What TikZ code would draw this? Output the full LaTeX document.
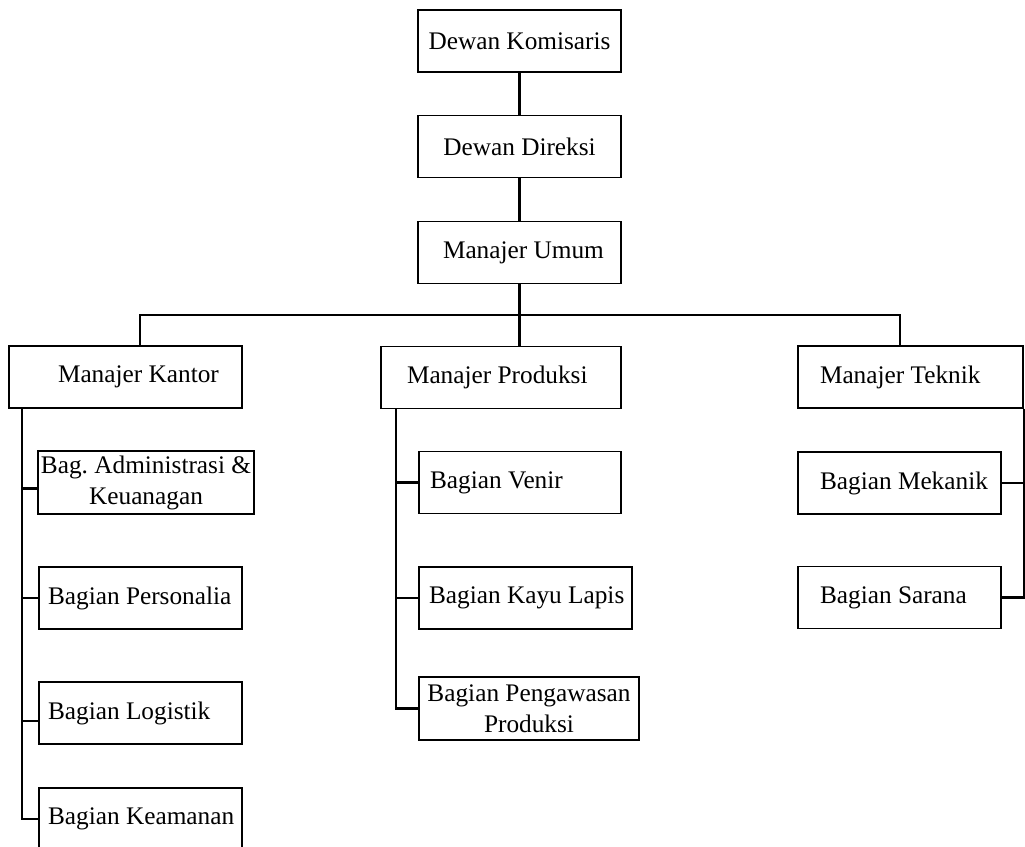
\documentclass[tikz,border=0pt]{standalone}
\usepackage{fontspec}
\setmainfont{Liberation Serif}

\begin{document}
\begin{tikzpicture}[
    x=0.02cm, y=-0.02cm,
    box/.style={draw, line width=0.75pt, inner xsep=0pt, inner ysep=0pt,
        minimum height=1.24cm, font=\fontsize{14.4}{17.6}\selectfont\frenchspacing},
    line/.style={line width=1.3pt}
]

    \useasboundingbox (0,0) rectangle (1025,846);

    % Top levels
    \node[box, minimum width=4.06cm, align=center] (kom) at (519.5,41) {Dewan Komisaris};
    \node[box, minimum width=4.06cm, align=center] (dir) at (519.5,146.5) {Dewan Direksi};
    \node[box, text width=4.06cm, align=flush left] (umum) at (519.5,252.5) {\hspace*{0.5cm}Manajer Umum};

    % Managers
    \node[box, text width=4.66cm, align=flush left] (kantor) at (125.5,377) {\hspace*{0.98cm}Manajer Kantor};
    \node[box, text width=4.80cm, align=flush left] (produksi) at (501,377.5) {\hspace*{0.52cm}Manajer Produksi};
    \node[box, text width=4.50cm, align=flush left] (teknik) at (910.5,377) {\hspace*{0.44cm}Manajer Teknik};

    % Kantor sections
    \node[box, minimum width=4.32cm, minimum height=1.26cm, align=center] (admin) at (146,482.5) {Bag. Administrasi \&\\Keuanagan};
    \node[box, text width=4.06cm, align=flush left] (personalia) at (140.5,598) {\hspace*{0.18cm}Bagian Personalia};
    \node[box, text width=4.06cm, align=flush left] (logistik) at (140.5,713) {\hspace*{0.18cm}Bagian Logistik};
    \node[box, text width=4.06cm, align=flush left] (keamanan) at (140.5,819) {\hspace*{0.18cm}Bagian Keamanan};

    % Produksi sections
    \node[box, text width=4.04cm, align=flush left] (venir) at (520,482.5) {\hspace*{0.22cm}Bagian Venir};
    \node[box, text width=4.26cm, align=flush left] (kayu) at (525.5,598) {\hspace*{0.2cm}Bagian Kayu Lapis};
    \node[box, minimum width=4.40cm, minimum height=1.26cm, align=center] (pengawasan) at (529,708.5) {Bagian Pengawasan\\Produksi};

    % Teknik sections
    \node[box, text width=4.06cm, align=flush left] (mekanik) at (899.5,483) {\hspace*{0.44cm}Bagian Mekanik};
    \node[box, text width=4.06cm, align=flush left] (sarana) at (899.5,597.5) {\hspace*{0.44cm}Bagian Sarana};

    % Connectors
    \coordinate (busL) at (140,315);
    \coordinate (busR) at (900,315);
    \coordinate (kx) at (22,0);
    \coordinate (px) at (396,0);

    \draw[line] (kom.south) -- (dir.north);
    \draw[line] (dir.south) -- (umum.north);
    \draw[line] (umum.south) -- (umum.south |- produksi.north);
    \draw[line] (busL |- kantor.north) -- (busL) -- (busR) -- (busR |- teknik.north);

    \draw[line] (kx |- kantor.south) -- (kx |- keamanan.west) -- (keamanan.west);
    \draw[line] ([yshift=-0.12cm]admin.west) -- ++(-16,0);
    \draw[line] (kx |- personalia.west) -- (personalia.west);
    \draw[line] ([yshift=-0.16cm]logistik.west) -- ++(-17,0);

    \draw[line] (px |- produksi.south) -- (px |- pengawasan.west) -- (pengawasan.west);
    \draw[line] (px |- venir.west) -- (venir.west);
    \draw[line] (px |- kayu.west) -- (kayu.west);

    \draw[line] (teknik.south east) -- (teknik.south east |- sarana.east) -- (sarana.east);
    \draw[line] (mekanik.east) -- (mekanik.east -| teknik.south east);

\end{tikzpicture}
\end{document}
